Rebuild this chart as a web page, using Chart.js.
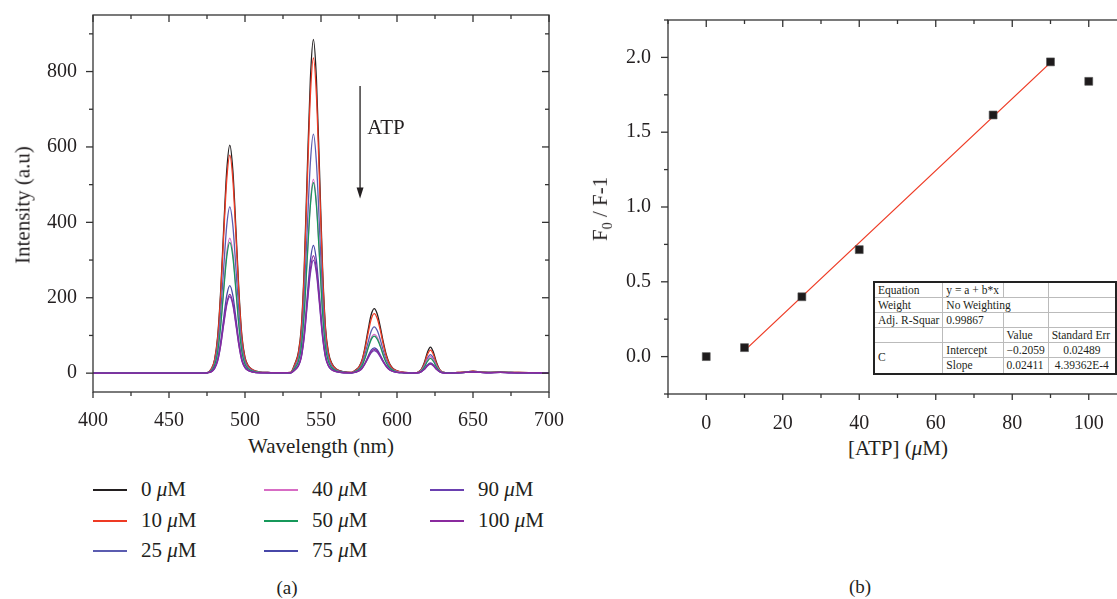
<!DOCTYPE html>
<html>
<head>
<meta charset="utf-8">
<script src="https://cdn.jsdelivr.net/npm/chart.js@4.4.0/dist/chart.umd.min.js"></script>
<style>
  body { margin:0; width:1117px; height:599px; overflow:hidden; background:#fff; position:relative;
         font-family:"Liberation Serif", "DejaVu Serif", serif; color:#231f20; }
  canvas { position:absolute; top:0; }
  .lbl { position:absolute; white-space:nowrap; transform:translate(-50%,-50%); }
  .rot { transform:translate(-50%,-50%) rotate(-90deg); }
  .leg { position:absolute; height:20px; }
  .leg span.ln { position:absolute; left:0; top:9px; width:34px; height:1.5px; }
  .leg span.tx { position:absolute; top:-3px; font-size:21px; white-space:nowrap; }
  #fit { position:absolute; left:873px; top:281px; border-collapse:collapse; background:#fff;
         font-size:11.5px; border:2px solid #222; table-layout:fixed; }
  #fit td { border:1px solid #bbb; height:14.1px; padding:0 3px; line-height:13px; white-space:nowrap; overflow:hidden; }
</style>
</head>
<body>
<canvas id="spec" width="570" height="430" style="left:0"></canvas>
<canvas id="fitChart" width="580" height="430" style="left:560px"></canvas>

<div class="lbl" style="left:386px; top:127px; font-size:21px">ATP</div>
<div class="lbl rot" style="left:23px; top:205px; font-size:21px">Intensity (a.u)</div>
<div class="lbl" style="left:321px; top:446px; font-size:21px">Wavelength (nm)</div>
<div class="lbl" style="left:287px; top:588px; font-size:19px">(a)</div>
<div class="lbl rot" style="left:602px; top:209px; font-size:21px">F<sub style="font-size:14px">0</sub> / F-1</div>
<div class="lbl" style="left:898px; top:448px; font-size:21px">[ATP] (<i>μ</i>M)</div>
<div class="lbl" style="left:860px; top:587px; font-size:19px">(b)</div>
<div id="legend"></div>

<table id="fit">
  <colgroup><col style="width:69px"><col style="width:64px"><col style="width:45px"><col style="width:80px"></colgroup>
  <tr><td>Equation</td><td>y = a + b*x</td><td></td><td></td></tr>
  <tr><td>Weight</td><td colspan="2">No Weighting</td><td></td></tr>
  <tr><td>Adj. R-Squar</td><td>0.99867</td><td></td><td></td></tr>
  <tr><td></td><td></td><td>Value</td><td>Standard Err</td></tr>
  <tr><td rowspan="2">C</td><td>Intercept</td><td>−0.2059</td><td style="text-align:center">0.02489</td></tr>
  <tr><td>Slope</td><td>0.02411</td><td style="text-align:center">4.39362E-4</td></tr>
</table>

<script>
// Spectra (a)
const wavelength = [400,420,440,460,470,475,
  478,480,482,484,486,488,490,492,494,496,498,500,502,505,510,
  515,520,525,530,
  533,535,537,539,541,543,545,547,549,551,553,555,557,560,565,570,
  573,575,577,579,581,583,585,587,589,591,593,595,597,600,605,610,
  612,614,616,618,620,622,624,626,628,630,634,
  640,645,650,655,660,668,675,680,690,700];

const atp0 = [0,0,0,0,0,1,
  12,36,97,218,384,538,605,538,384,218,97,42,21,9,3,
  2,1,1,2,
  27,53,119,283,540,779,885,779,540,283,119,53,27,11,4,2,
  9,17,35,70,115,155,171,157,123,82,48,26,14,6,2,1,
  1,3,10,28,55,69,55,28,10,3,1,
  2,3,5,3,2,3,2,2,1,0];
const atp10 = [0,0,0,0,0,1,
  12,35,92,208,367,514,578,514,367,208,92,40,20,9,3,
  2,1,1,2,
  25,50,113,268,510,736,836,736,510,268,113,50,25,10,3,2,
  8,16,33,65,106,143,158,145,114,76,44,24,13,6,2,1,
  1,3,9,25,49,61,49,25,9,3,1,
  2,3,5,3,2,3,2,2,1,0];
const atp25 = [0,0,0,0,0,1,
  9,26,71,159,280,392,441,392,280,159,71,31,15,7,2,
  2,1,1,1,
  19,38,86,203,387,558,634,558,387,203,86,38,19,8,3,1,
  6,12,25,50,82,111,123,113,89,59,34,18,10,4,1,1,
  1,2,7,20,39,49,39,20,7,2,1,
  1,2,4,2,2,2,2,1,1,0];
const atp40 = [0,0,0,0,0,1,
  7,21,57,129,227,319,358,319,227,129,57,25,13,5,2,
  1,1,1,1,
  15,31,69,164,314,452,514,452,314,164,69,31,15,6,2,1,
  5,10,21,42,69,93,103,95,74,49,29,15,8,4,1,1,
  1,2,7,18,35,44,35,18,7,2,1,
  1,2,4,2,2,2,2,1,1,0];
const atp50 = [0,0,0,0,0,1,
  7,21,56,125,220,309,347,309,220,125,56,24,12,5,2,
  1,1,1,1,
  15,30,68,162,308,444,505,444,308,162,68,30,15,6,2,1,
  5,10,20,40,66,89,98,90,71,47,27,15,8,3,1,0,
  1,2,6,16,31,39,31,16,6,2,1,
  1,2,4,2,2,2,2,1,1,0];
const atp75 = [0,0,0,0,0,1,
  5,14,37,84,147,206,232,206,147,84,37,16,8,3,1,
  1,1,1,1,
  10,20,46,108,207,298,339,298,207,108,46,20,10,4,1,1,
  3,7,14,27,45,61,67,62,48,32,19,10,5,2,1,0,
  1,1,4,11,22,27,22,11,4,1,0,
  1,2,3,2,1,2,1,1,1,0];
const atp90 = [0,0,0,0,0,1,
  4,12,32,73,129,181,203,181,129,73,32,14,7,3,1,
  1,1,1,1,
  9,18,41,96,183,264,300,264,183,96,41,18,9,4,1,1,
  3,6,12,25,40,54,60,55,43,29,17,9,5,2,1,0,
  0,1,4,10,19,24,19,10,4,1,0,
  1,2,3,2,1,2,1,1,1,0];
const atp100 = [0,0,0,0,0,1,
  4,13,33,75,133,186,209,186,133,75,33,15,7,3,1,
  1,1,1,1,
  9,19,42,100,190,275,312,275,190,100,42,19,9,4,1,1,
  3,6,13,26,42,57,63,58,45,30,18,9,5,2,1,0,
  1,1,4,10,20,25,20,10,4,1,0,
  1,2,3,2,1,2,1,1,1,0];

const seriesNames = ["0 μM","10 μM","25 μM","40 μM","50 μM","75 μM","90 μM","100 μM"];
const seriesData = [atp0, atp10, atp25, atp40, atp50, atp75, atp90, atp100];
const seriesColors = ["#231f20","#ee3a24","#5b5cb0","#d76cc4","#16985a","#4747a8","#6a40b0","#8a2a9e"];

const waveTicks = [400,450,500,550,600,650,700];
const waveMinor = [425,475,525,575,625,675];
const intensityTicks = [0,200,400,600,800];
const intensityMinor = [100,300,500,700,900];

// Calibration (b)
const atpConc = [0,10,25,40,75,90,100];
const quench = [0.0,0.06,0.40,0.715,1.615,1.97,1.84];
const fitX = [10,90];
const fitY = [0.04,1.965];
const concTicks = [0,20,40,60,80,100];
const concMinor = [-10,10,30,50,70,90,110];
const quenchTicks = [0.0,0.5,1.0,1.5,2.0];
const quenchMinor = [-0.25,0.25,0.75,1.25,1.75,2.25];

const FONT = "Liberation Serif";
const INK = "#231f20";

// box frame with Origin-style ticks (out on bottom/left, in on top/right)
const frame = {
  id: "frame",
  afterDatasetsDraw(chart, args, o) {
    const {ctx, chartArea: a, scales: {x, y}} = chart;
    ctx.save();
    ctx.strokeStyle = "#333";
    ctx.lineWidth = 1.3;
    ctx.strokeRect(a.left, a.top, a.right - a.left, a.bottom - a.top);
    const seg = (x1, y1, x2, y2) => { ctx.beginPath(); ctx.moveTo(x1, y1); ctx.lineTo(x2, y2); ctx.stroke(); };
    const xt = (vals, outL, inL) => vals.forEach(v => {
      const p = x.getPixelForValue(v);
      seg(p, a.bottom, p, a.bottom + outL);
      seg(p, a.top, p, a.top + inL);
    });
    const yt = (vals, outL, inL) => vals.forEach(v => {
      const p = y.getPixelForValue(v);
      seg(a.left - outL, p, a.left, p);
      seg(a.right, p, a.right - inL, p);
    });
    xt(o.xMajor, 6, 7); xt(o.xMinor, 4, 4);
    yt(o.yMajor, 7, 7); yt(o.yMinor, 4, 4);
    if (o.arrow) {
      const ax = x.getPixelForValue(o.arrow.x);
      const y1 = y.getPixelForValue(o.arrow.from), y2 = y.getPixelForValue(o.arrow.to);
      ctx.strokeStyle = INK;
      seg(ax, y1, ax, y2 - 8);
      ctx.fillStyle = INK;
      ctx.beginPath();
      ctx.moveTo(ax, y2); ctx.lineTo(ax - 3.5, y2 - 11); ctx.lineTo(ax + 3.5, y2 - 11);
      ctx.closePath(); ctx.fill();
    }
    ctx.restore();
  }
};

function axis(min, max, ticks, size, pad, isX) {
  return {
    type: "linear", min, max,
    grid: {display: false, drawTicks: false},
    border: {display: false},
    ticks: {font: {family: FONT, size: 20}, color: INK, padding: pad, autoSkip: false, maxRotation: 0,
            callback: v => Number.isInteger(v) && max > 10 ? v : v.toFixed(1)},
    afterBuildTicks: s => { s.ticks = ticks.map(v => ({value: v})); },
    afterFit: s => {
      if (isX) s.height = size; else s.width = size;
      // keep the plot area exactly where the layout padding puts it
      s.paddingLeft = s.paddingRight = s.paddingTop = s.paddingBottom = 0;
    }
  };
}

new Chart(document.getElementById("spec"), {
  type: "line",
  data: {
    datasets: seriesData.map((d, i) => ({
      label: seriesNames[i],
      data: wavelength.map((w, k) => ({x: w, y: d[k]})),
      borderColor: seriesColors[i],
      borderWidth: 1.3,
      pointRadius: 0,
      cubicInterpolationMode: "monotone",
      order: seriesData.length - i
    }))
  },
  options: {
    responsive: false, animation: false,
    layout: {padding: {top: 15, right: 21, bottom: 0, left: 0}},
    plugins: {legend: {display: false}, tooltip: {enabled: false},
      frame: {xMajor: waveTicks, xMinor: waveMinor, yMajor: intensityTicks, yMinor: intensityMinor,
              arrow: {x: 575.7, from: 762, to: 463}}},
    scales: {
      x: axis(400, 700, waveTicks, 38, 17, true),
      y: axis(-50, 950, intensityTicks, 93, 16, false)
    }
  },
  plugins: [frame]
});

new Chart(document.getElementById("fitChart"), {
  type: "scatter",
  data: {
    datasets: [
      {data: atpConc.map((c, i) => ({x: c, y: quench[i]})), pointStyle: "rect", pointRadius: 5.6,
       backgroundColor: "#1e1b1c", borderColor: "#555", borderWidth: 0.6, order: 1},
      {type: "line", data: fitX.map((c, i) => ({x: c, y: fitY[i]})), borderColor: "#ee3a24",
       borderWidth: 1.3, pointRadius: 0, order: 2}
    ]
  },
  options: {
    responsive: false, animation: false,
    layout: {padding: {top: 20, right: 13, bottom: 0, left: 0}},
    plugins: {legend: {display: false}, tooltip: {enabled: false},
      frame: {xMajor: concTicks, xMinor: concMinor, yMajor: quenchTicks, yMinor: quenchMinor}},
    scales: {
      x: axis(-10, 110, concTicks, 36, 18, true),
      y: axis(-0.25, 2.25, quenchTicks, 108, 17, false)
    }
  },
  plugins: [frame]
});

// legend, three columns filled top to bottom
const legX = [93, 264, 430], legY = [490, 521, 551];
const legend = document.getElementById("legend");
seriesNames.forEach((name, i) => {
  const col = Math.floor(i / 3), row = i % 3;
  const el = document.createElement("div");
  el.className = "leg";
  el.style.left = legX[col] + "px";
  el.style.top = (legY[row] - 10) + "px";
  const parts = name.split(" ");
  el.innerHTML = `<span class="ln" style="background:${seriesColors[i]}"></span>` +
    `<span class="tx" style="left:48px">${parts[0]} <i>μ</i>M</span>`;
  legend.appendChild(el);
});
</script>
</body>
</html>
